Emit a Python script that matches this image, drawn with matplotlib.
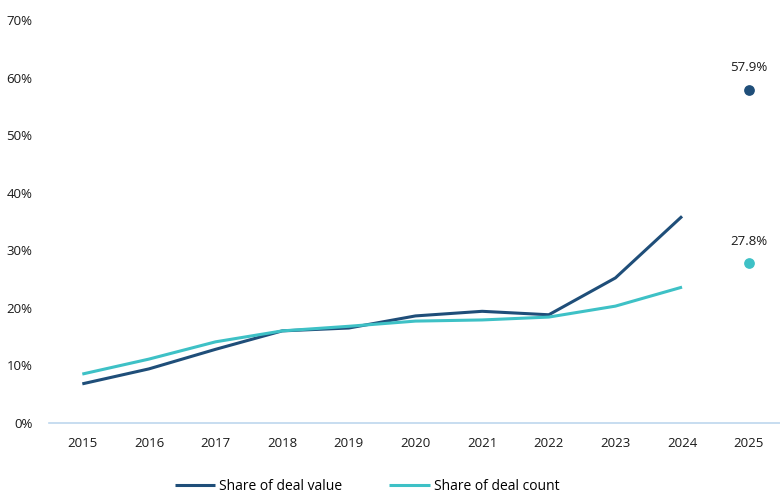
import matplotlib.pyplot as plt
import numpy as np

plt.rcParams['font.family'] = ['Open Sans', 'DejaVu Sans']

years = ['2015', '2016', '2017', '2018', '2019', '2020', '2021', '2022', '2023', '2024', '2025']
deal_value = [6.8, 9.4, 12.8, 16.0, 16.5, 18.6, 19.4, 18.8, 25.2, 35.9]
deal_count = [8.5, 11.1, 14.1, 16.0, 16.8, 17.7, 17.9, 18.4, 20.3, 23.6]
value_2025 = 57.9
count_2025 = 27.8

dark = '#1F4E79'
teal = '#3EC1C6'
txt = '#1a1a1a'

fig = plt.figure(figsize=(7.8, 4.98), dpi=100)
ax = fig.add_axes([49/780, 1 - 423/498, 733/780, 403/498])

x = np.arange(len(years))
ax.plot(x[:10], deal_value, color=dark, lw=2.2, label='Share of deal value', solid_capstyle='butt')
ax.plot(x[:10], deal_count, color=teal, lw=2.2, label='Share of deal count', solid_capstyle='butt')
ax.scatter([x[10]], [value_2025], color=dark, s=45, zorder=3)
ax.scatter([x[10]], [count_2025], color=teal, s=45, zorder=3)
ax.annotate('57.9%', (x[10], value_2025), xytext=(0, 11), textcoords='offset points',
            ha='center', va='bottom', fontsize=9.5, color=txt)
ax.annotate('27.8%', (x[10], count_2025), xytext=(0, 11), textcoords='offset points',
            ha='center', va='bottom', fontsize=9.5, color=txt)

ax.set_xlim(-0.5, 10.5)
ax.set_ylim(0, 70)
ax.set_xticks(x)
ax.set_xticklabels(years)
ax.set_yticks(np.arange(0, 71, 10))
ax.set_yticklabels([f'{v}%' for v in range(0, 71, 10)])
ax.tick_params(axis='both', length=0, labelsize=9.5, colors=txt)
ax.tick_params(axis='x', pad=10)
ax.tick_params(axis='y', pad=12)
for s in ['top', 'right', 'left']:
    ax.spines[s].set_visible(False)
ax.spines['bottom'].set_color('#BDD7EE')
ax.spines['bottom'].set_linewidth(1.2)

fig.legend(loc='center', bbox_to_anchor=(367/780, 1 - 486/498), ncol=2, frameon=False,
           fontsize=10, handlelength=2.9, handletextpad=0.3, columnspacing=3.4)

plt.savefig('out.png', dpi=100)
